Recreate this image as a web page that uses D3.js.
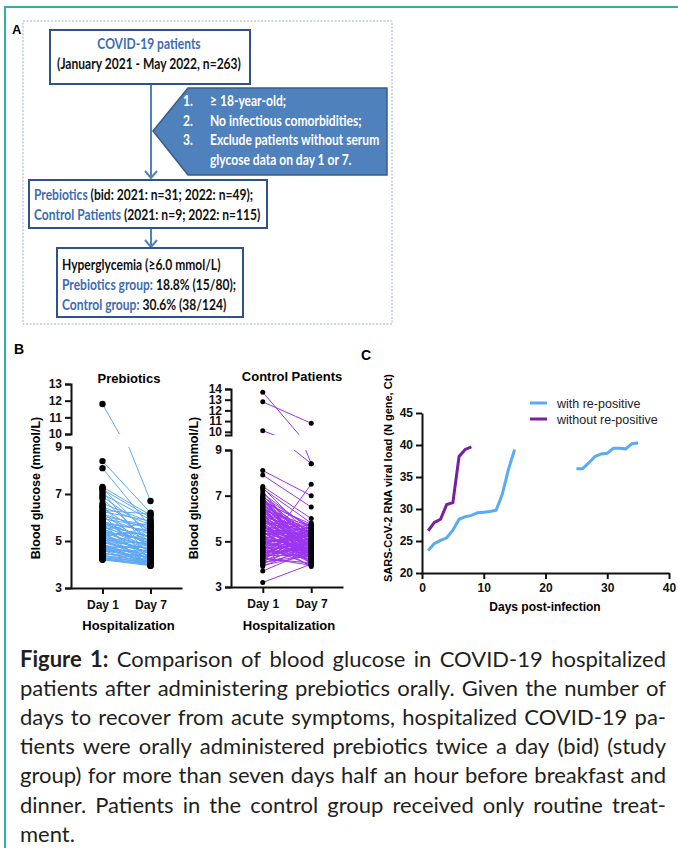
<!DOCTYPE html>
<html>
<head>
<meta charset="utf-8">
<script src="https://cdn.jsdelivr.net/npm/d3@7"></script>
<style>
  body { margin: 0; background: #fff; }
  svg { display: block; }
  .ax path, .ax line { stroke: #111; stroke-width: 2; }
  .ax text { fill: #111; font-family: "Liberation Sans", Arial, sans-serif; font-weight: 700; font-size: 12px; }
</style>
</head>
<body>
<div id="fig"></div>
<script>
// ---- data ----
var dayLabels = ["Day 1", "Day 7"];

// Prebiotics group, paired blood glucose (mmol/L)
var preDay1 = [
  11.8, 8.4, 8.1, 7.3, 7.25, 7.2, 7.1, 7.0, 6.9, 6.8,
  6.6, 6.5, 6.45, 6.4, 6.3, 6.2, 6.15, 6.1, 6.0, 5.95,
  5.9, 5.85, 5.8, 5.75, 5.7, 5.65, 5.6, 5.55, 5.5, 5.45,
  5.4, 5.38, 5.35, 5.3, 5.25, 5.2, 5.18, 5.15, 5.1, 5.05,
  5.0, 4.98, 4.95, 4.9, 4.88, 4.85, 4.8, 4.78, 4.75, 4.7,
  4.68, 4.65, 4.6, 4.58, 4.55, 4.5, 4.48, 4.45, 4.4, 4.38,
  4.35, 4.3, 4.28, 4.25, 4.2, 4.22, 5.72, 5.62, 5.52, 5.42,
  5.32, 5.12, 5.02, 4.92, 4.82, 4.72, 6.05, 5.82, 6.25, 4.62
];
var preDay7 = [
  6.7, 6.2, 5.6, 6.1, 5.2, 6.0, 4.6, 5.9, 5.4, 4.9,
  5.8, 4.4, 5.7, 5.1, 6.15, 4.7, 5.5, 4.2, 5.3, 5.6,
  4.5, 5.0, 4.8, 5.45, 4.1, 5.2, 4.9, 4.3, 5.75, 4.6,
  5.05, 4.0, 4.75, 5.35, 4.45, 4.15, 5.55, 4.85, 4.05, 4.65,
  5.25, 4.35, 4.55, 4.95, 4.0, 4.25, 4.7, 3.98, 4.4, 4.8,
  4.1, 4.5, 3.95, 4.3, 4.6, 4.05, 4.2, 4.35, 4.0, 4.15,
  4.05, 3.98, 4.1, 4.0, 3.95, 4.0, 5.15, 4.9, 4.75, 5.0,
  4.45, 4.65, 4.25, 4.55, 4.12, 4.08, 5.65, 5.4, 5.85, 4.28
];

// Control group, paired blood glucose (mmol/L)
var ctlDay1 = [
  13.7, 12.8, 10.1, 8.1, 7.9, 7.4, 7.35, 7.3, 7.2, 7.1,
  7.0, 6.95, 6.9, 6.85, 6.8, 6.75, 6.7, 6.65, 6.6, 6.55,
  6.5, 6.45, 6.4, 6.35, 6.3, 6.25, 6.2, 6.15, 6.1, 6.05,
  6.0, 5.95, 5.9, 5.85, 5.8, 5.75, 5.7, 5.65, 5.6, 5.55,
  5.5, 5.45, 5.4, 5.35, 5.3, 5.25, 5.2, 5.15, 5.1, 5.05,
  5.0, 4.95, 4.9, 4.85, 4.8, 4.75, 4.7, 4.65, 4.6, 4.55,
  4.5, 4.45, 4.4, 4.35, 4.3, 4.25, 4.2, 4.15, 4.1, 4.05,
  4.0, 3.95, 3.9, 3.7, 3.2, 6.98, 6.88, 6.78, 6.68, 6.58,
  6.48, 6.38, 6.28, 6.18, 6.08, 5.98, 5.88, 5.78, 5.68, 5.58,
  5.48, 5.38, 5.28, 5.18, 5.08, 4.98, 4.88, 4.78, 4.68, 4.58,
  4.48, 4.38, 4.28, 4.18, 4.08, 5.92, 5.72, 5.52, 5.32, 5.12,
  4.92, 4.72, 4.52, 4.32, 6.92, 6.72, 6.52, 6.32, 6.12, 5.82,
  5.62, 5.42, 4.62, 4.42
];
var ctlDay7 = [
  8.4, 10.8, 8.4, 7.0, 6.5, 6.0, 5.2, 5.8, 4.6, 5.5,
  4.9, 5.6, 4.3, 5.3, 5.1, 4.7, 5.75, 4.4, 5.4, 4.8,
  5.0, 4.2, 5.65, 4.5, 4.95, 5.35, 4.1, 5.2, 4.65, 5.55,
  4.35, 5.05, 4.75, 4.0, 5.45, 4.55, 5.15, 4.25, 4.85, 5.7,
  4.45, 5.25, 4.05, 4.9, 5.6, 4.6, 4.15, 5.35, 4.8, 4.3,
  5.1, 4.5, 5.45, 4.7, 3.95, 5.3, 4.85, 4.2, 7.5, 5.0,
  4.65, 5.2, 4.35, 5.55, 4.9, 4.05, 5.4, 4.75, 5.15, 4.6,
  5.05, 4.4, 4.8, 4.6, 4.0, 5.1, 4.3, 5.65, 4.45, 5.25,
  4.15, 5.5, 4.7, 5.0, 4.25, 5.35, 4.55, 5.75, 4.1, 5.2,
  4.95, 4.35, 5.4, 4.65, 3.9, 5.3, 4.85, 4.2, 5.55, 4.5,
  5.15, 4.75, 3.95, 5.45, 4.4, 5.05, 4.3, 4.9, 5.6, 4.05,
  5.25, 4.6, 5.7, 4.8, 4.45, 5.1, 4.15, 5.35, 4.7, 4.0,
  5.0, 4.25, 5.5, 4.85
];

var lowerTicks = [3, 5, 7, 9];
var preUpperTicks = [10, 11, 12, 13];
var ctlUpperTicks = [10, 11, 12, 13, 14];

// Panel C: SARS-CoV-2 Ct values by day post-infection
var posDays = [1, 2, 3, 4, 5, 6, 7, 8, 9, 10, 11, 12, 13, 14, 15, 25, 26, 27, 28, 29, 30, 31, 32, 33, 34, 35];
var posCt = [23.5, 24.6, 25.1, 25.5, 26.7, 28.4, 28.8, 29.0, 29.4, 29.5, 29.6, 29.8, 32.3, 36.2, 39.3,
             36.3, 36.3, 37.2, 38.2, 38.6, 38.7, 39.5, 39.5, 39.4, 40.2, 40.3];
var negDays = [1, 2, 3, 4, 5, 6, 7, 8];
var negCt = [26.6, 27.9, 28.4, 30.7, 31.0, 38.2, 39.3, 39.7];
var dayTicks = [0, 10, 20, 30, 40];
var ctTicks = [20, 25, 30, 35, 40, 45];
var seriesNames = ["with re-positive", "without re-positive"];

var arial = "'Liberation Sans', Arial, sans-serif";
var calibri = "Lato, 'Open Sans', sans-serif";

// wait for the local fonts so that text measuring is right
Promise.all([
  document.fonts.load("400 22px Lato"),
  document.fonts.load("700 22px Lato"),
  document.fonts.load("700 13px 'Liberation Sans'"),
  document.fonts.load("400 13px 'Liberation Sans'")
]).catch(function() {}).then(draw);

function draw() {
var svg = d3.select("#fig").append("svg").attr("width", 678).attr("height", 848);

// teal page border
svg.append("path").attr("d", "M5,848V7H678")
  .attr("fill", "none").attr("stroke", "#2fb49c").attr("stroke-width", 2);

// ---- panel A: flow chart ----
var boxBlue = "#2f528f", fillBlue = "#4f81bd", textBlue = "#3d6cb3";
var fc = svg.append("g").attr("font-family", calibri).attr("font-weight", 700).attr("font-size", 15.5);

fc.append("rect").attr("x", 23).attr("y", 21).attr("width", 369).attr("height", 303)
  .attr("fill", "none").attr("stroke", "#9fb0cc").attr("stroke-width", 1).attr("stroke-dasharray", "2,1.5");
svg.append("text").attr("x", 12).attr("y", 34).attr("font-family", arial).attr("font-weight", 700)
  .attr("font-size", 13).text("A");

// arrows
fc.append("path").attr("d", "M151,84V178M145,171L151,178L157,171M151,228V247M145,240L151,247L157,240")
  .attr("fill", "none").attr("stroke", fillBlue).attr("stroke-width", 2);

// criteria pentagon
fc.append("path").attr("d", "M153,131L188,88H387V175H188Z")
  .attr("fill", fillBlue).attr("stroke", "#385d8a").attr("stroke-width", 1.5);

[[50, 30, 200, 54], [29, 180, 238, 48], [57, 248, 186, 69]].forEach(function(b) {
  fc.append("rect").attr("x", b[0]).attr("y", b[1]).attr("width", b[2]).attr("height", b[3])
    .attr("fill", "#fff").attr("stroke", boxBlue).attr("stroke-width", 2);
});

// condensed text, like Calibri
var refT = fc.append("text").text("(January 2021 - May 2022, n=263)");
var k = 184 / refT.node().getComputedTextLength();
refT.remove();
function fcLine(x, y, parts, anchor, color) {
  var t = fc.append("text")
    .attr("transform", "translate(" + x + "," + y + ") scale(" + k + ",1)")
    .attr("text-anchor", anchor || "start");
  parts.forEach(function(p) {
    t.append("tspan").attr("fill", p[1] || color || "#111").text(p[0]);
  });
}
fcLine(149, 49, [["COVID-19 patients", textBlue]], "middle");
fcLine(149, 69, [["(January 2021 - May 2022, n=263)"]], "middle");

var crit = [["1.", "\u2265 18-year-old;"], ["2.", "No infectious comorbidities;"],
            ["3.", "Exclude patients without serum"], ["", "glycose data on day 1 or 7."]];
crit.forEach(function(c, i) {
  var y = 106 + i * 19.7;
  fcLine(183, y, [[c[0]]], "start", "#fff");
  fcLine(210, y, [[c[1]]], "start", "#fff");
});

fcLine(34, 200, [["Prebiotics ", textBlue], ["(bid: 2021: n=31; 2022: n=49);"]]);
fcLine(34, 220, [["Control Patients ", textBlue], ["(2021: n=9; 2022: n=115)"]]);
fcLine(62, 270, [["Hyperglycemia (\u22656.0 mmol/L)"]]);
fcLine(62, 290, [["Prebiotics group: ", textBlue], ["18.8% (15/80);"]]);
fcLine(62, 310, [["Control group: ", textBlue], ["30.6% (38/124)"]]);

// ---- panel B: paired dot plots with broken y axis ----
svg.append("text").attr("x", 14).attr("y", 354).attr("font-family", arial).attr("font-weight", 700)
  .attr("font-size", 14).text("B");

function pairedPanel(o) {
  var g = svg.append("g");
  var x = d3.scalePoint().domain(dayLabels).range(o.xRange).padding(0.656);
  var yLow = d3.scaleLinear().domain([3, 9]).range(o.lowRange);
  var yUp = d3.scaleLinear().domain(o.upDomain).range(o.upRange);
  var pairs = d3.zip(o.day1, o.day7);
  var segs = [
    { y: yLow, top: yLow(9), bottom: yLow(3), keep: function(v) { return v <= 9.5; } },
    { y: yUp, top: yUp.range()[1] - 8, bottom: yUp.range()[0], keep: function(v) { return v > 9.5; } }
  ];

  segs.forEach(function(s, i) {
    var id = o.id + "-clip" + i;
    g.append("clipPath").attr("id", id).append("rect")
      .attr("x", o.xRange[0]).attr("width", o.xRange[1] - o.xRange[0])
      .attr("y", s.top).attr("height", s.bottom - s.top);
    g.append("g").attr("clip-path", "url(#" + id + ")")
      .selectAll("line").data(pairs).join("line")
      .attr("x1", x(dayLabels[0])).attr("x2", x(dayLabels[1]))
      .attr("y1", function(d) { return s.y(d[0]); })
      .attr("y2", function(d) { return s.y(d[1]); })
      .attr("stroke", o.color).attr("stroke-width", 1);
  });

  [o.day1, o.day7].forEach(function(vals, di) {
    segs.forEach(function(s) {
      g.append("g").selectAll("circle").data(vals.filter(s.keep)).join("circle")
        .attr("cx", x(dayLabels[di])).attr("cy", function(v) { return s.y(v); })
        .attr("r", o.r).attr("fill", "#000");
    });
  });

  var ax = g.append("g").attr("class", "ax");
  ax.append("g").attr("transform", "translate(" + o.xRange[0] + ",0)")
    .call(d3.axisLeft(yLow).tickValues(lowerTicks).tickSize(6).tickPadding(3).tickFormat(d3.format("d")))
    .selectAll("text").attr("font-size", 12.5);
  ax.append("g").attr("transform", "translate(" + o.xRange[0] + ",0)")
    .call(d3.axisLeft(yUp).tickValues(o.upTicks).tickSize(6).tickPadding(3).tickFormat(d3.format("d")))
    .selectAll("text").attr("font-size", o.upFont);
  ax.append("g").attr("transform", "translate(0," + yLow(3) + ")")
    .call(d3.axisBottom(x).tickSize(6).tickSizeOuter(0).tickPadding(6))
    .selectAll("text").attr("font-size", 12.5);

  var mid = (o.xRange[0] + o.xRange[1]) / 2;
  g.append("text").attr("x", o.titleX).attr("y", o.titleY).attr("text-anchor", "middle")
    .attr("font-family", arial).attr("font-weight", 700).attr("font-size", 13).text(o.title);
  g.append("text").attr("x", mid + 2).attr("y", 630).attr("text-anchor", "middle")
    .attr("font-family", arial).attr("font-weight", 700).attr("font-size", 13).text("Hospitalization");
  g.append("text").attr("transform", "translate(" + o.labelX + ",488) rotate(-90)")
    .attr("text-anchor", "middle").attr("font-family", arial).attr("font-weight", 700)
    .attr("font-size", 12.5).text("Blood glucose (mmol/L)");
}

pairedPanel({
  id: "pre", title: "Prebiotics", titleX: 129, titleY: 383, labelX: 40,
  xRange: [71, 182], lowRange: [588, 447], upDomain: [10, 13], upRange: [434, 384],
  upTicks: preUpperTicks, upFont: 12.5, day1: preDay1, day7: preDay7, color: "#5ea8f2", r: 3.2
});
pairedPanel({
  id: "ctl", title: "Control Patients", titleX: 292, titleY: 381, labelX: 198,
  xRange: [231, 343], lowRange: [587, 450], upDomain: [9.7, 14], upRange: [435, 389],
  upTicks: ctlUpperTicks, upFont: 9.5, day1: ctlDay1, day7: ctlDay7, color: "#9b35ef", r: 2.5
});

// ---- panel C: viral load ----
svg.append("text").attr("x", 361).attr("y", 360).attr("font-family", arial).attr("font-weight", 700)
  .attr("font-size", 14).text("C");

var gc = svg.append("g");
var xC = d3.scaleLinear().domain([0, 40]).range([422, 669]);
var yC = d3.scaleLinear().domain([20, 45]).range([573, 413]);
var lineC = d3.line().x(function(d) { return xC(d[0]); }).y(function(d) { return yC(d[1]); });

function runs(days, vals) {
  var out = [], cur = [];
  days.forEach(function(d, i) {
    if (i > 0 && d - days[i - 1] > 1) { out.push(cur); cur = []; }
    cur.push([d, vals[i]]);
  });
  out.push(cur);
  return out;
}
var seriesColors = ["#5aabf6", "#7a1f9e"];
gc.append("g").selectAll("path").data(runs(posDays, posCt)).join("path")
  .attr("d", lineC).attr("fill", "none").attr("stroke", seriesColors[0]).attr("stroke-width", 3);
gc.append("g").selectAll("path").data(runs(negDays, negCt)).join("path")
  .attr("d", lineC).attr("fill", "none").attr("stroke", seriesColors[1]).attr("stroke-width", 3);

var axC = gc.append("g").attr("class", "ax");
axC.append("g").attr("transform", "translate(0,573)")
  .call(d3.axisBottom(xC).tickValues(dayTicks).tickSize(6).tickSizeOuter(0).tickPadding(4));
axC.append("g").attr("transform", "translate(422,0)")
  .call(d3.axisLeft(yC).tickValues(ctTicks).tickSize(6).tickSizeOuter(0).tickPadding(3));
axC.selectAll("text").attr("font-size", 12.5);

gc.append("text").attr("x", 545).attr("y", 611).attr("text-anchor", "middle")
  .attr("font-family", arial).attr("font-weight", 700).attr("font-size", 12).text("Days post-infection");
gc.append("text").attr("transform", "translate(392,478) rotate(-90)").attr("text-anchor", "middle")
  .attr("font-family", arial).attr("font-weight", 700).attr("font-size", 11)
  .text("SARS-CoV-2 RNA viral load (N gene, Ct)");

var leg = gc.append("g").selectAll("g").data(seriesNames).join("g")
  .attr("transform", function(d, i) { return "translate(530," + (403 + i * 16) + ")"; });
leg.append("line").attr("x2", 17).attr("stroke", function(d, i) { return seriesColors[i]; }).attr("stroke-width", 3);
leg.append("text").attr("x", 27).attr("y", 4.5).attr("font-family", arial).attr("font-size", 12.5)
  .attr("fill", "#222").text(function(d) { return d; });

// ---- caption, justified ----
var capLines = [
  "Figure 1: Comparison of blood glucose in COVID-19 hospitalized",
  "patients after administering prebiotics orally. Given the number of",
  "days to recover from acute symptoms, hospitalized COVID-19 pa-",
  "tients were orally administered prebiotics twice a day (bid) (study",
  "group) for more than seven days half an hour before breakfast and",
  "dinner. Patients in the control group received only routine treat-",
  "ment."
];
var capWidth = 646;
var cap = svg.append("g").attr("transform", "translate(20,0)")
  .attr("font-family", calibri).attr("font-size", 22).attr("fill", "#231f20");
// measure each word on its own, so no ligature spans two words
function wordWidth(w, weight) {
  var t = cap.append("text").attr("font-weight", weight).text(w);
  var wd = t.node().getComputedTextLength();
  t.remove();
  return wd;
}
capLines.forEach(function(line, li) {
  var words = line.split(" ");
  var weights = words.map(function(w, wi) { return li === 0 && wi < 2 ? 700 : 400; });
  var widths = words.map(function(w, wi) { return wordWidth(w, weights[wi]); });
  var last = li === capLines.length - 1;
  var gap = last ? 5 : (capWidth - d3.sum(widths)) / (words.length - 1);
  var cx = 0;
  words.forEach(function(w, wi) {
    cap.append("text").attr("x", cx).attr("y", 667 + li * 29.1)
      .attr("font-weight", weights[wi]).text(w);
    cx += widths[wi] + gap;
  });
});
}
</script>
</body>
</html>
